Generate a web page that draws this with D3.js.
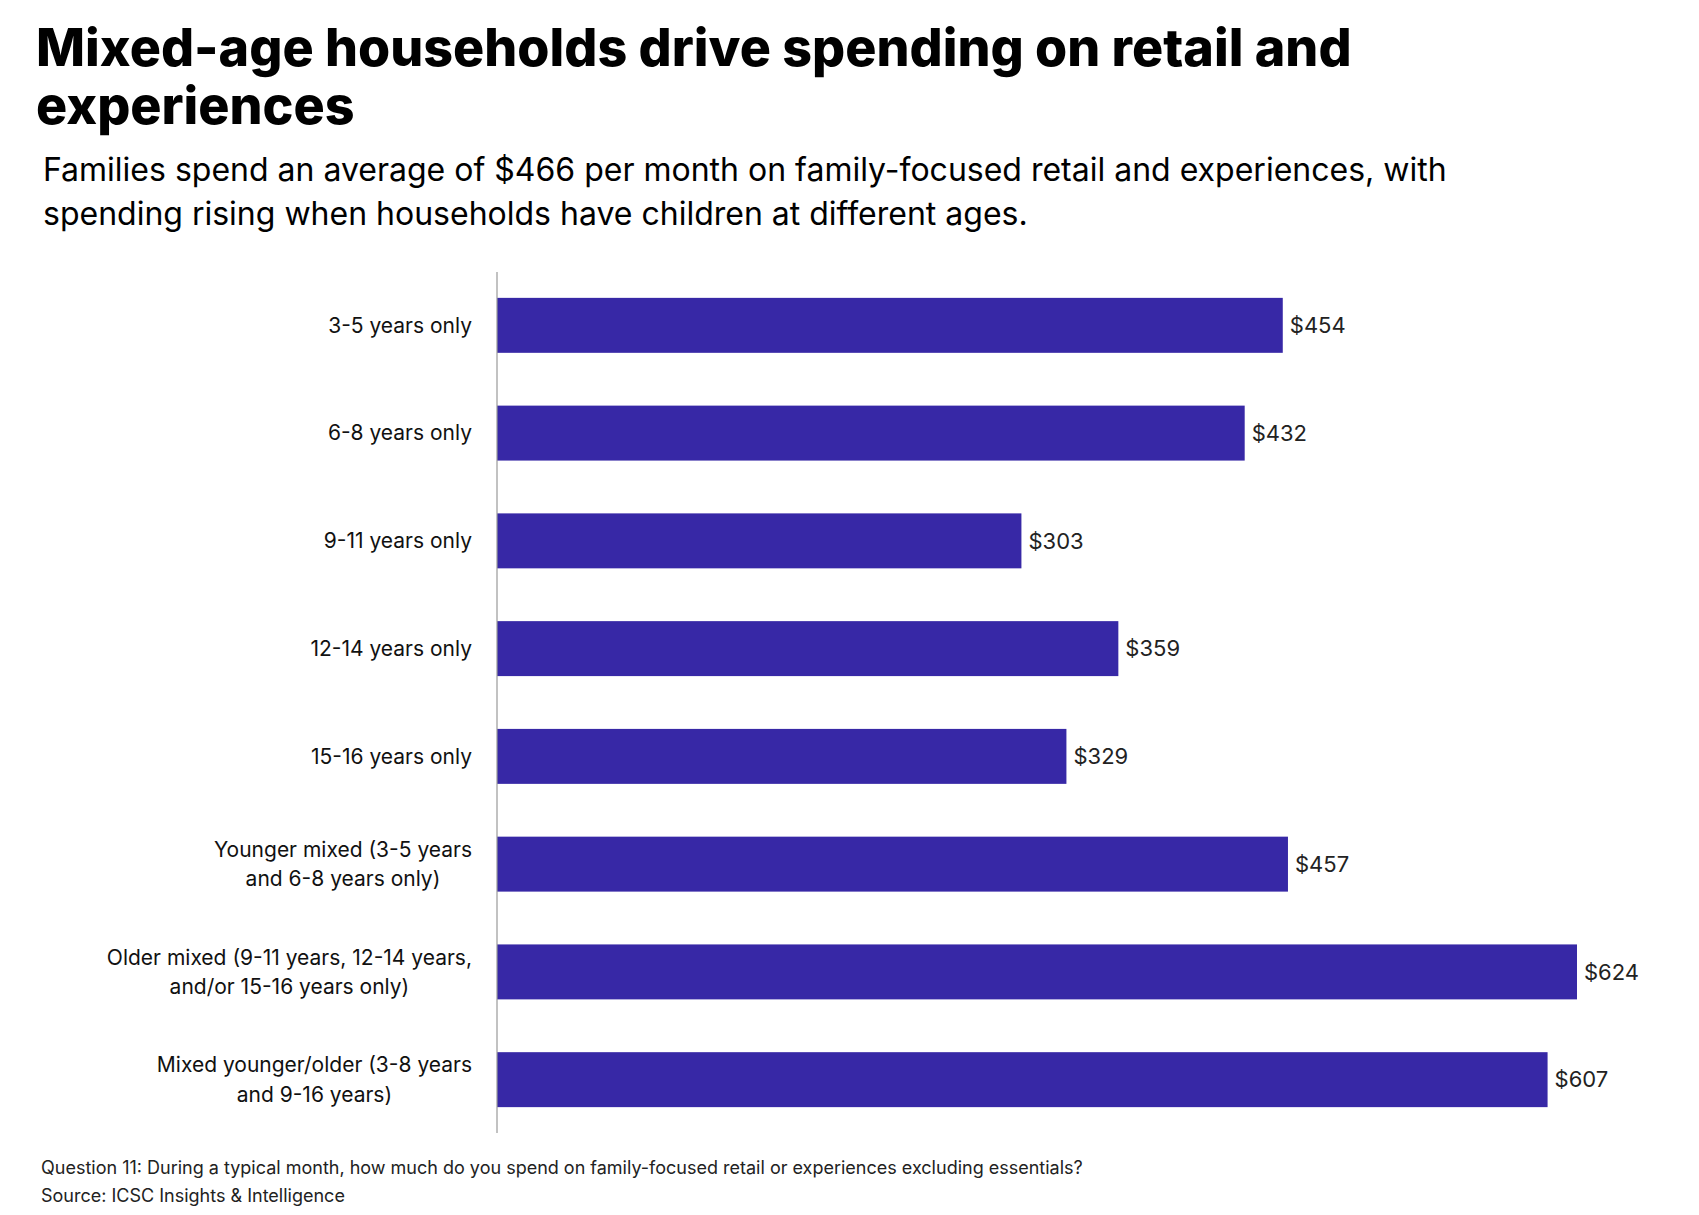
<!DOCTYPE html>
<html><head><meta charset="utf-8">
<script src="https://cdn.jsdelivr.net/npm/d3@7"></script>
<style>body{margin:0;background:#fff;}</style>
</head><body><svg id="chart"></svg>
<script>
const categories = [
  ["3-5 years only"],
  ["6-8 years only"],
  ["9-11 years only"],
  ["12-14 years only"],
  ["15-16 years only"],
  ["Younger mixed (3-5 years", "and 6-8 years only)"],
  ["Older mixed (9-11 years, 12-14 years,", "and/or 15-16 years only)"],
  ["Mixed younger/older (3-8 years", "and 9-16 years)"]
];
const values = [454, 432, 303, 359, 329, 457, 624, 607];

const width = 1699, height = 1215;
const svg = d3.select("#chart").attr("width", width).attr("height", height)
  .style("font-family", "Inter, 'Noto Sans', sans-serif");

const x0 = 497, plotTop = 272, plotBottom = 1133;
const x = d3.scaleLinear().domain([0, 624]).range([x0, 1577]);
const y = d3.scaleBand().domain(d3.range(values.length))
  .range([272, 1133]).paddingInner(0.49).paddingOuter(0.24);

svg.append("text").attr("x", 36).attr("y", 66).attr("font-size", 52).attr("font-weight", 800)
  .text("Mixed-age households drive spending on retail and");
svg.append("text").attr("x", 36).attr("y", 124).attr("font-size", 52).attr("font-weight", 800)
  .text("experiences");
svg.append("text").attr("x", 43).attr("y", 181).attr("font-size", 32)
  .text("Families spend an average of $466 per month on family-focused retail and experiences, with");
svg.append("text").attr("x", 43).attr("y", 225).attr("font-size", 32)
  .text("spending rising when households have children at different ages.");

svg.append("g").selectAll("rect").data(values).join("rect")
  .attr("x", x0).attr("y", (d, i) => y(i))
  .attr("width", d => x(d) - x0).attr("height", y.bandwidth())
  .attr("fill", "#3728A6");

svg.append("g").selectAll("text").data(values).join("text")
  .attr("x", d => x(d) + 7).attr("y", (d, i) => y(i) + y.bandwidth() / 2)
  .attr("dy", "0.35em").attr("font-size", 22).attr("fill", "#222")
  .text(d => "$" + d);

svg.append("line").attr("x1", x0).attr("x2", x0).attr("y1", plotTop).attr("y2", plotBottom)
  .attr("stroke", "#999").attr("stroke-width", 1.2);

const lab = svg.append("g").selectAll("text").data(categories).join("text")
  .attr("text-anchor", "end").attr("font-size", 21).attr("fill", "#111")
  .attr("x", 472)
  .attr("y", (d, i) => y(i) + y.bandwidth() / 2);
lab.each(function(lines) {
  const t = d3.select(this);
  const n = lines.length;
  lines.forEach((l, j) => {
    t.append("tspan").attr("x", n > 1 && j == 1 ? 472 - (lines[0].length - l.length) * 0 : 472)
      .attr("dy", j == 0 ? (0.35 - (n - 1) * 0.7) + "em" : "1.4em")
      .attr("text-anchor", n > 1 && j == 1 ? "middle" : "end")
      .text(l);
  });
});
// center the second lines under the first ones
lab.each(function(lines) {
  if (lines.length < 2) return;
  const spans = d3.select(this).selectAll("tspan").nodes();
  const w = spans[0].getComputedTextLength();
  d3.select(spans[1]).attr("x", 472 - w / 2);
});

svg.append("text").attr("x", 41).attr("y", 1174).attr("font-size", 18).attr("fill", "#222")
  .text("Question 11:  During a typical month, how much do you spend on family-focused retail or experiences excluding essentials?");
svg.append("text").attr("x", 41).attr("y", 1202).attr("font-size", 18).attr("fill", "#222")
  .text("Source: ICSC Insights & Intelligence");
</script></body></html>
